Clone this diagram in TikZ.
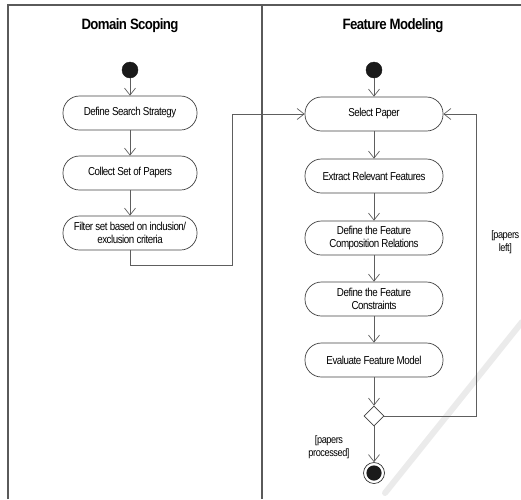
\documentclass[tikz,border=0pt]{standalone}
\usepackage{fontspec}
\setmainfont{Liberation Sans}
\newfontfamily\actfont[FakeStretch=0.85,LetterSpace=-4]{Liberation Sans}
\newfontfamily\lanefont[FakeStretch=0.88,LetterSpace=-4]{Liberation Sans}
\usetikzlibrary{arrows.meta,shapes.geometric}
\definecolor{frameline}{HTML}{5A5A5A}
\definecolor{flowline}{HTML}{5E5E5E}
\definecolor{dotfill}{HTML}{1A1A1A}
\tikzset{
  action/.style={draw=black!75, line width=0.7pt, rectangle, rounded corners=16.5pt,
    minimum width=136pt, minimum height=34pt, align=center, inner sep=1pt,
    font=\actfont\fontsize{11.5}{13}\selectfont, text=black},
  startdot/.style={circle, fill=dotfill, draw=dotfill, minimum size=16pt, inner sep=0pt},
  enddot/.style={circle, draw=black!80, line width=0.7pt, fill=white, minimum size=21pt, inner sep=0pt,
    path picture={\fill[dotfill] (path picture bounding box.center) circle (7.6pt);}},
  choice/.style={diamond, draw=black!75, line width=0.7pt, fill=white, minimum width=20pt, minimum height=20pt, inner sep=0pt},
  flow/.style={draw=flowline, line width=0.7pt, -{Straight Barb[length=7pt,width=11pt,line width=0.7pt]}},
  lanetitle/.style={font=\lanefont\bfseries\fontsize{15}{17}\selectfont, text=black},
  guard/.style={font=\actfont\fontsize{10.8}{13}\selectfont, text=black, inner sep=0pt}
}
\begin{document}
\begin{tikzpicture}[x=1pt,y=-1pt]
\useasboundingbox (0,0) rectangle (521,499);

% watermark stroke behind the diagram
\draw[line width=6pt, black!8, line cap=round] (522,322) -- (385,493);

% swimlane frame
\draw[frameline, line width=1.2pt] (8,499) -- (8,5) -- (521,5);
\draw[frameline, line width=1.2pt] (262,5) -- (262,499);

% lane titles
\node[lanetitle] (tds) at (130,26) {Domain Scoping};
\node[lanetitle] (tfm) at (393,26) {Feature Modeling};

% Domain Scoping lane
\node[startdot] (s1) at (130,70) {};
\node[action, minimum width=134pt] (a1) at (130,113) {Define Search Strategy};
\node[action, minimum width=134pt] (a2) at (130,173) {Collect Set of Papers};
\node[action, minimum width=134pt] (a3) at (130,233) {Filter set based on inclusion/\\exclusion criteria};

% Feature Modeling lane
\node[startdot] (s2) at (374,70) {};
\node[action, minimum width=138pt] (b1) at (374,114) {Select Paper};
\node[action, minimum width=138pt] (b2) at (374,176) {Extract Relevant Features};
\node[action, minimum width=138pt] (b3) at (374,238) {Define the Feature\\Composition Relations};
\node[action, minimum width=138pt] (b4) at (374,299) {Define the Feature\\Constraints};
\node[action, minimum width=138pt] (b5) at (374,360) {Evaluate Feature Model};
\node[choice] (d1) at (374,416) {};
\node[enddot] (e1) at (374,473) {};

% helper points for the routed connectors
\coordinate (c1) at (130,265);
\coordinate (c2) at (232,265);
\coordinate (c3) at (232,114);
\coordinate (c4) at (476,416);
\coordinate (c5) at (476,114);

% flows
\draw[flow] (s1) -- (a1);
\draw[flow] (a1) -- (a2);
\draw[flow] (a2) -- (a3);
\draw[flow] (a3.south) -- (c1) -- (c2) -- (c3) -- (b1.west);
\draw[flow] (s2) -- (b1);
\draw[flow] (b1) -- (b2);
\draw[flow] (b2) -- (b3);
\draw[flow] (b3) -- (b4);
\draw[flow] (b4) -- (b5);
\draw[flow] (b5) -- (d1);
\draw[flow] (d1) -- (e1);
\draw[flow] (d1.east) -- (c4) -- (c5) -- (b1.east);

% guards
\node[guard, align=center, anchor=east] (g1) at (519.5,242) {[papers\\left]};
\node[guard, align=center] (g2) at (329,447) {[papers\\processed]};
\end{tikzpicture}
\end{document}
